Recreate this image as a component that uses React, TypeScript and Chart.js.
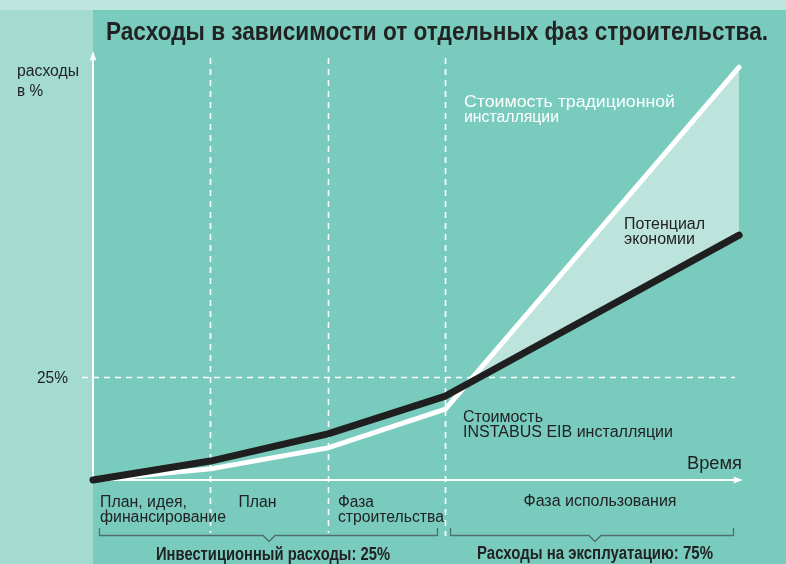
import React, { useEffect, useRef } from "react";
import { Chart, registerables } from "chart.js";

Chart.register(...registerables);

// ---- data ----
const timePoints = [0, 1, 2, 3, 5.5];
const eibCost = [0, 4.6, 11.2, 20.4, 59.5];
const traditionalCost = [0, 2.7, 7.8, 17.2, 100.3];
const phaseBoundaries = [1, 2, 3];
const yTickValue = 25;
const yTickLabel = "25%";

const titleText = "Расходы в зависимости от отдельных фаз строительства.";
const yAxisTitle = ["расходы", "в %"];
const xAxisTitle = "Время";
const traditionalLabel = ["Стоимость традиционной", "инсталляции"];
const savingsLabel = ["Потенциал", "экономии"];
const eibLabel = ["Стоимость", "INSTABUS EIB инсталляции"];
const phaseLabels = [
  ["План, идея,", "финансирование"],
  ["План"],
  ["Фаза", "строительства"],
  ["Фаза использования"],
];
const groupLabels = ["Инвестиционный расходы: 25%", "Расходы на эксплуатацию: 75%"];

// ---- colours ----
const MAIN_BG = "#79cbbe";
const LEFT_BG = "#a3dbd1";
const TOP_BG = "#bfe6de";
const FILL = "#bde4dc";
const DARK = "#1f1f1f";
const TEXT = "#222222";
const BRACKET = "#4f6f6a";
const FONT = "'Liberation Sans', Arial, Helvetica, sans-serif";

function drawText(
  ctx: CanvasRenderingContext2D,
  s: string,
  x: number,
  y: number,
  font: string,
  color: string,
  width?: number,
  align: "left" | "center" | "right" = "left"
) {
  ctx.save();
  ctx.font = font;
  ctx.fillStyle = color;
  ctx.textBaseline = "alphabetic";
  ctx.textAlign = "left";
  const w = ctx.measureText(s).width;
  const sx = width ? width / w : 1;
  const fw = w * sx;
  const x0 = align === "left" ? x : align === "center" ? x - fw / 2 : x - fw;
  ctx.translate(x0, y);
  ctx.scale(sx, 1);
  ctx.fillText(s, 0, 0);
  ctx.restore();
}

const decorPlugin = {
  id: "decor",
  beforeDraw(chart: any) {
    const { ctx, width, height, chartArea } = chart;
    ctx.save();
    ctx.fillStyle = MAIN_BG;
    ctx.fillRect(0, 0, width, height);
    ctx.fillStyle = LEFT_BG;
    ctx.fillRect(0, 10, chartArea.left, height - 10);
    ctx.fillStyle = TOP_BG;
    ctx.fillRect(0, 0, width, 10);
    ctx.restore();
  },
  beforeDatasetsDraw(chart: any) {
    const { ctx, chartArea, scales } = chart;
    const xs = scales.x;
    const ys = scales.y;
    ctx.save();
    ctx.strokeStyle = "#ffffff";
    ctx.lineWidth = 1.6;
    ctx.setLineDash([6, 5]);
    // vertical phase boundaries
    phaseBoundaries.forEach((b, i) => {
      const px = Math.round(xs.getPixelForValue(b)) + 0.5;
      ctx.beginPath();
      ctx.moveTo(px, 58);
      ctx.lineTo(px, i === 2 ? 536 : 533);
      ctx.stroke();
    });
    // horizontal 25% line
    const py = Math.round(ys.getPixelForValue(yTickValue)) + 0.5;
    ctx.beginPath();
    ctx.moveTo(82, py);
    ctx.lineTo(735, py);
    ctx.stroke();
    ctx.setLineDash([]);

    // axes
    const x0 = chartArea.left;
    const y0 = ys.getPixelForValue(0);
    ctx.lineWidth = 2;
    ctx.beginPath();
    ctx.moveTo(x0, y0);
    ctx.lineTo(736, y0);
    ctx.stroke();
    ctx.beginPath();
    ctx.moveTo(x0, y0);
    ctx.lineTo(x0, 58);
    ctx.stroke();
    ctx.fillStyle = "#ffffff";
    ctx.beginPath();
    ctx.moveTo(743, y0);
    ctx.lineTo(733, y0 - 3.5);
    ctx.lineTo(735, y0);
    ctx.lineTo(733, y0 + 3.5);
    ctx.closePath();
    ctx.fill();
    ctx.beginPath();
    ctx.moveTo(x0, 51);
    ctx.lineTo(x0 - 3.5, 61);
    ctx.lineTo(x0, 59);
    ctx.lineTo(x0 + 3.5, 61);
    ctx.closePath();
    ctx.fill();
    ctx.restore();
  },
  afterDraw(chart: any) {
    const { ctx, scales } = chart;
    const xs = scales.x;
    const ys = scales.y;
    const reg = (size: number) => `${size}px ${FONT}`;
    const bold = (size: number) => `bold ${size}px ${FONT}`;

    // title
    drawText(ctx, titleText, 106, 40, bold(26), TEXT, 662);

    // y axis title
    drawText(ctx, yAxisTitle[0], 17, 76, reg(16), TEXT, 62);
    drawText(ctx, yAxisTitle[1], 17, 96, reg(16), TEXT, 26);
    // y tick
    drawText(ctx, yTickLabel, 68, ys.getPixelForValue(yTickValue) + 6, reg(16), TEXT, 31, "right");

    // annotations
    drawText(ctx, traditionalLabel[0], 464, 107, reg(16), "#ffffff", 211);
    drawText(ctx, traditionalLabel[1], 464, 122, reg(16), "#ffffff", 95);
    drawText(ctx, savingsLabel[0], 624, 229, reg(16), TEXT, 81);
    drawText(ctx, savingsLabel[1], 624, 244, reg(16), TEXT, 71);
    drawText(ctx, eibLabel[0], 463, 422, reg(16), TEXT, 80);
    drawText(ctx, eibLabel[1], 463, 437, reg(16), TEXT, 210);

    // x axis title
    drawText(ctx, xAxisTitle, 742, 469, reg(18), TEXT, 55, "right");

    // phase labels
    const p0 = xs.getPixelForValue(0);
    drawText(ctx, phaseLabels[0][0], p0 + 7, 507, reg(16), TEXT, 87);
    drawText(ctx, phaseLabels[0][1], p0 + 7, 522, reg(16), TEXT, 126);
    drawText(ctx, phaseLabels[1][0], xs.getPixelForValue(1) + 28, 507, reg(16), TEXT, 38);
    drawText(ctx, phaseLabels[2][0], xs.getPixelForValue(2) + 10, 507, reg(16), TEXT, 36);
    drawText(ctx, phaseLabels[2][1], xs.getPixelForValue(2) + 10, 522, reg(16), TEXT, 106);
    drawText(ctx, phaseLabels[3][0], 600, 506, reg(16), TEXT, 153, "center");

    // brackets
    const drawBracket = (l: number, r: number, mid: number) => {
      ctx.save();
      ctx.strokeStyle = BRACKET;
      ctx.lineWidth = 1.3;
      ctx.beginPath();
      ctx.moveTo(l, 528);
      ctx.lineTo(l, 535.5);
      ctx.lineTo(mid - 6, 535.5);
      ctx.lineTo(mid, 541.5);
      ctx.lineTo(mid + 6, 535.5);
      ctx.lineTo(r, 535.5);
      ctx.lineTo(r, 528);
      ctx.stroke();
      ctx.restore();
    };
    drawBracket(99.5, 437.5, 269);
    drawBracket(450.5, 733.5, 595);
    drawText(ctx, groupLabels[0], 273, 560, bold(18), TEXT, 234, "center");
    drawText(ctx, groupLabels[1], 595, 559, bold(18), TEXT, 236, "center");
  },
};

export default function App() {
  const ref = useRef<HTMLCanvasElement | null>(null);

  useEffect(() => {
    if (!ref.current) return;
    const chart = new Chart(ref.current, {
      type: "line",
      data: {
        datasets: [
          {
            label: "INSTABUS EIB",
            data: timePoints.map((x, i) => ({ x, y: eibCost[i] })),
            borderColor: DARK,
            borderWidth: 7,
            borderCapStyle: "round",
            borderJoinStyle: "round",
            pointRadius: 0,
            tension: 0,
            fill: false,
            clip: false,
          },
          {
            label: "Traditional",
            data: timePoints.map((x, i) => ({ x, y: traditionalCost[i] })),
            borderColor: "#ffffff",
            borderWidth: 5,
            borderCapStyle: "round",
            borderJoinStyle: "miter",
            pointRadius: 0,
            tension: 0,
            fill: { target: 0, above: FILL, below: "rgba(0,0,0,0)" },
            clip: false,
          },
        ],
      } as any,
      options: {
        responsive: false,
        animation: false,
        devicePixelRatio: 1,
        layout: { padding: { left: 93, right: 41, top: 52, bottom: 84 } },
        scales: {
          x: { type: "linear", min: 0, max: 5.55, display: false },
          y: { type: "linear", min: 0, max: 104, display: false },
        },
        plugins: {
          legend: { display: false },
          tooltip: { enabled: false },
          title: { display: false },
        },
        events: [],
      } as any,
      plugins: [decorPlugin],
    });
    return () => chart.destroy();
  }, []);

  return (
    <div style={{ position: "fixed", left: 0, top: 0, width: 786, height: 564 }}>
      <canvas ref={ref} width={786} height={564} style={{ display: "block" }} />
    </div>
  );
}
